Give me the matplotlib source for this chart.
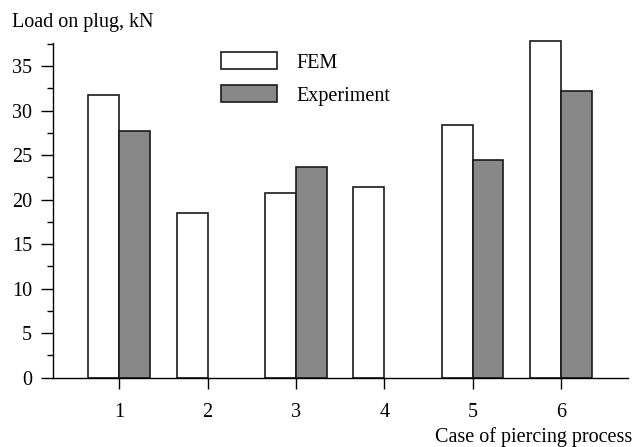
import numpy as np
import matplotlib
matplotlib.use('Agg')
import matplotlib.pyplot as plt
from matplotlib.ticker import MultipleLocator

# Data
cases = [1, 2, 3, 4, 5, 6]
fem = [31.8, 18.5, 20.7, 21.4, 28.4, 37.8]
experiment = [27.7, np.nan, 23.7, np.nan, 24.5, 32.2]

plt.rcParams['font.family'] = ['Liberation Serif', 'DejaVu Serif']
plt.rcParams['font.size'] = 14.5

fig = plt.figure(figsize=(6.32, 4.47), dpi=100)
ax = fig.add_axes([53 / 632, 1 - 377.7 / 447, (628 - 53) / 632, (377.7 - 43) / 447])

x = np.array(cases, dtype=float)
w = 0.35
ax.bar(x - w / 2, fem, width=w, facecolor='white', edgecolor='#1a1a1a',
       linewidth=1.2, label='FEM', clip_on=False)
ax.bar(x + w / 2, experiment, width=w, facecolor='#888888', edgecolor='#1a1a1a',
       linewidth=1.2, label='Experiment', clip_on=False)

ax.set_xlim(0.25, 6.76)
ax.set_ylim(0, 37.6)
ax.set_xticks(cases)
ax.set_yticks([0, 5, 10, 15, 20, 25, 30, 35])
ax.yaxis.set_minor_locator(MultipleLocator(2.5))
ax.tick_params(axis='y', which='major', direction='out', length=8.6, width=1, pad=6.5)
ax.tick_params(axis='y', which='minor', direction='out', length=4, width=1)
ax.tick_params(axis='x', which='major', direction='out', length=8, width=1, pad=10.5)

for s in ['top', 'right']:
    ax.spines[s].set_visible(False)
for s in ['left', 'bottom']:
    ax.spines[s].set_linewidth(1)

fig.text(12 / 632, 1 - 23 / 447, 'Load on plug, kN', ha='left', va='center')
fig.text(632 / 632, 1 - 437 / 447, 'Case of piercing process', ha='right', va='center')

ax.legend(loc='upper left', bbox_to_anchor=(221 / 632, 1 - 52 / 447),
          bbox_transform=fig.transFigure, frameon=False, borderpad=0,
          handlelength=2.79, handleheight=0.95, handletextpad=0.95,
          labelspacing=0.62, borderaxespad=0)

fig.savefig('out.png', dpi=100)
